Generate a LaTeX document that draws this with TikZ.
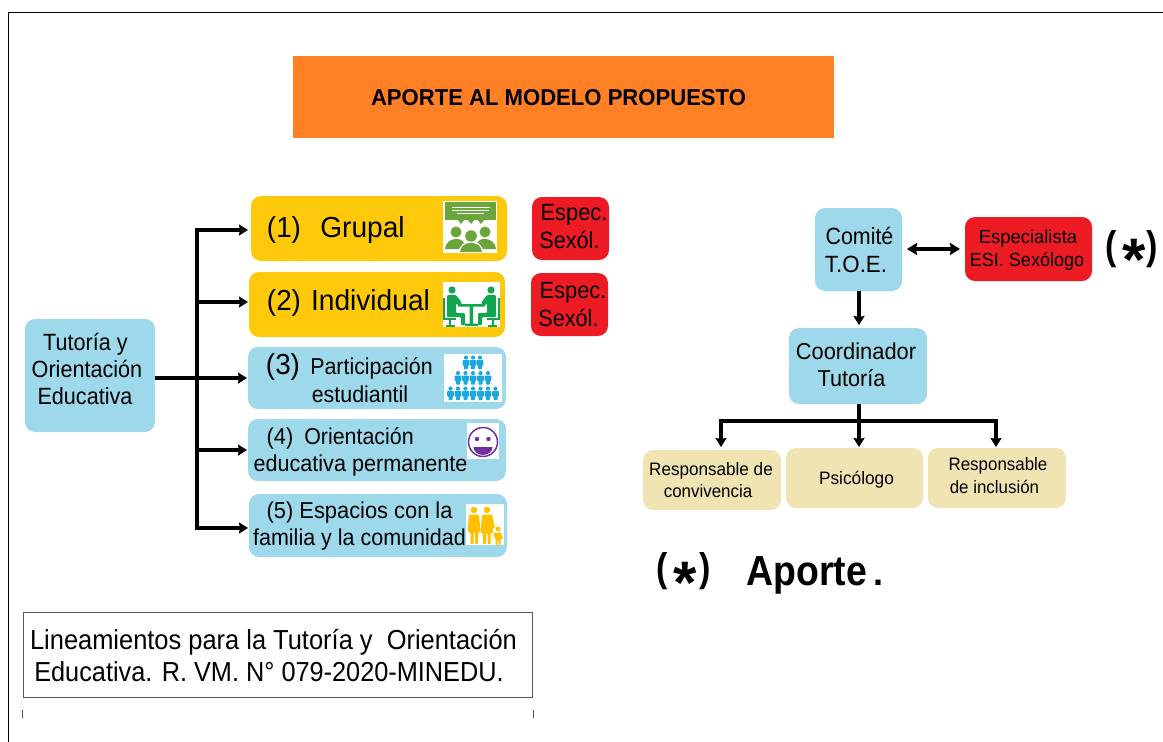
\documentclass[tikz,border=0pt]{standalone}
\usepackage{fontspec}
\setmainfont{Liberation Sans}
\usetikzlibrary{arrows.meta}
\definecolor{cyanbox}{HTML}{9DD9EB}
\definecolor{goldbox}{HTML}{FFC90B}
\definecolor{redbox}{HTML}{ED1C24}
\definecolor{sandbox}{HTML}{F0E4B2}
\definecolor{orangebox}{HTML}{FF8025}
\definecolor{icongreen}{HTML}{6AA63C}
\definecolor{icontable}{HTML}{12A650}
\definecolor{iconblue}{HTML}{1CA7DF}
\definecolor{iconviolet}{HTML}{7030A0}
\definecolor{iconyellow}{HTML}{FFC000}
\newcommand{\fs}[1]{\fontsize{#1}{#1}\selectfont}
\tikzset{
  boxshape/.style={draw=none,rounded corners=10pt,inner sep=0pt,outer sep=0pt},
  txt/.style={inner sep=0pt,outer sep=0pt,text=black,anchor=base},
  link/.style={line width=3.2pt,draw=black},
  arrowlink/.style={link,-{Stealth[length=9pt,width=11pt,inset=1pt]}},
  iconbg/.style={fill=white,draw=none}
}
\newcommand{\bx}[6]{\node[boxshape,fill=#6,minimum width={(#4-#2)*1pt},minimum height={(#5-#3)*1pt}] (#1) at ({(#2+#4)/2},{(#3+#5)/2}) {};}
% [bold etc]{size}{horizontal scale}{centre x, baseline y}{text}
\newcommand{\tx}[5][]{\node[txt,font=#1\fs{#2}] at (#4) {\scalebox{#3}[1]{#5}};}
\newcommand{\pers}[3]{\begin{scope}[shift={(#1,#2)}]
 \fill[#3] (0,-5.4) circle (2.1);
 \fill[#3,rounded corners=.8pt] (-3.4,-3)--(3.4,-3)--(3.4,2.2)--(2,2.2)--(2,6.2)--(-2,6.2)--(-2,2.2)--(-3.4,2.2)--cycle;
\end{scope}}
\begin{document}
\begin{tikzpicture}[x=1pt,y=-1pt]
\useasboundingbox (0,0) rectangle (1163,742);
\fill[white] (0,0) rectangle (1163,742);
\draw[black,line width=.8pt] (8.5,742) -- (8.5,12.5) -- (1163,12.5);
% title
\node[draw=none,fill=orangebox,inner sep=0pt,minimum width=541pt,minimum height=82pt] (title) at (563.5,97) {};
\tx[\bfseries]{23}{.96}{558.5,105}{APORTE AL MODELO PROPUESTO}
% left boxes
\bx{tut}{25}{319}{155}{432}{cyanbox}
\bx{g1}{251}{196}{507}{261}{goldbox}
\bx{g2}{249}{272}{505}{337}{goldbox}
\bx{p3}{248}{347}{506}{409}{cyanbox}
\bx{p4}{248}{419}{506}{481}{cyanbox}
\bx{p5}{249}{494}{507}{557}{cyanbox}
\bx{r1}{532}{197}{609}{260}{redbox}
\bx{r2}{531}{273}{608}{336}{redbox}
% right boxes
\bx{com}{815}{208}{902}{291}{cyanbox}
\bx{esp}{965}{217}{1092}{281}{redbox}
\bx{coo}{789}{328}{927}{404}{cyanbox}
\bx{b1}{643}{450}{781}{510}{sandbox}
\bx{b2}{786}{448}{923}{508}{sandbox}
\bx{b3}{928}{448}{1066}{508}{sandbox}
% connectors left
\coordinate (bus) at (197,378);
\draw[arrowlink,shorten >=1pt] (tut.east |- bus) -- (p3.west |- bus);
\draw[link] (bus |- 0,228.4) -- (bus |- 0,529.6);
\draw[arrowlink,shorten >=3pt] (bus |- 0,230) -- (g1.west |- 0,230);
\draw[arrowlink,shorten >=1pt] (bus |- 0,302) -- (g2.west |- 0,302);
\draw[arrowlink,shorten >=1pt] (bus |- 0,450) -- (p4.west |- 0,450);
\draw[arrowlink,shorten >=1pt] (bus |- 0,528) -- (p5.west |- 0,528);
% connectors right
\draw[link,{Stealth[length=10pt,width=12pt,inset=1pt]}-{Stealth[length=10pt,width=12pt,inset=1pt]},shorten <=5pt,shorten >=5pt] (com.east |- 0,249) -- (esp.west |- 0,249);
\draw[arrowlink,shorten >=3pt] (com.south -| 859,0) -- (coo.north -| 859,0);
\coordinate (tree) at (859,421);
\draw[link] (coo.south -| tree) -- (tree);
\draw[link] (719.4,421) -- (997.6,421);
\draw[arrowlink,shorten >=3pt] (721,421) -- (b1.north -| 721,0);
\draw[arrowlink,shorten >=1pt] (tree) -- (b2.north -| tree);
\draw[arrowlink,shorten >=1pt] (996,421) -- (b3.north -| 996,0);
% left texts
\tx{23.5}{.92}{85.5,350}{Tutoría y}
\tx{23.5}{.92}{87,377}{Orientación}
\tx{23.5}{.92}{85,404}{Educativa}
\tx{29}{.96}{284,237}{(1)}
\tx{29}{.97}{362.5,237}{Grupal}
\tx{29}{.96}{284,310}{(2)}
\tx{29}{.97}{370.5,310}{Individual}
\tx{29}{.96}{283,374}{(3)}
\tx{23}{.93}{371.5,374}{Participación}
\tx{23}{.93}{360,402}{estudiantil}
\tx{23}{.95}{280,444}{(4)}
\tx{23}{.93}{359,444}{Orientación}
\tx{23}{.94}{360.5,471}{educativa permanente}
\tx{23}{.95}{280,518}{(5)}
\tx{23}{.95}{376,518}{Espacios con la}
\tx{23}{.935}{359.5,545}{familia y la comunidad}
\tx{23.5}{.93}{574,220}{Espec.}
\tx{23.5}{.92}{569.5,248}{Sexól.}
\tx{23.5}{.93}{573,298}{Espec.}
\tx{23.5}{.92}{568.5,326}{Sexól.}
% right texts
\tx{23.5}{.91}{859.5,244}{Comité}
\tx{23.5}{.95}{856,272}{T.O.E.}
\tx{23}{.95}{856,359}{Coordinador}
\tx{23}{.94}{851.5,386}{Tutoría}
\tx{19}{.97}{1028,243}{Especialista}
\tx{19}{.95}{1027,266}{ESI. Sexólogo}
\tx{18}{.95}{711,475}{Responsable de}
\tx{18}{.94}{708,497}{convivencia}
\tx{18}{.96}{856.5,484}{Psicólogo}
\tx{18}{.94}{998,470}{Responsable}
\tx{18}{.94}{994.5,493}{de inclusión}
% asterisks
\tx[\bfseries]{40}{.85}{1111,259}{(}
\tx[\bfseries]{60}{1}{1134,280}{*}
\tx[\bfseries]{40}{.85}{1152,259}{)}
\tx[\bfseries]{40}{.85}{662,581}{(}
\tx[\bfseries]{60}{1}{685,603}{*}
\tx[\bfseries]{40}{.85}{705,581}{)}
\tx[\bfseries]{42}{.89}{807,585}{Aporte}
\tx[\bfseries]{36}{1}{878,585}{.}
% reference box
\node[draw=black!65,line width=.8pt,minimum width=509.5pt,minimum height=85pt,inner sep=0pt] (ref) at (278,654.5) {};
\tx{27.5}{.925}{273.5,649}{Lineamientos para la Tutoría y\ \ Orientación}
\tx{27.5}{.92}{269,681}{Educativa. R. VM. N° 079-2020-MINEDU.}
\draw[black!65,line width=.8pt] (ref.south west |- 0,710) -- (ref.south west |- 0,718);
\draw[black!65,line width=.8pt] (ref.south east |- 0,710) -- (ref.south east |- 0,718);
% icon 1
\fill[iconbg] (443,201) rectangle (497,253);
\fill[icongreen] (445,202) rectangle (496,220);
\fill[icongreen] (457,219)--(465,219)--(461,224)--cycle (467,219)--(475,219)--(471,224)--cycle (477,219)--(485,219)--(481,224)--cycle;
\draw[white,line width=.8pt] (452,207)--(490,207) (452,210)--(489,210) (457,213)--(484,213);
\fill[icongreen] (456,232) circle (5.5) (485,232) circle (5.5);
\fill[icongreen] (445,249) .. controls (446,241) and (452,239) .. (456,239) .. controls (460,239) and (462,240) .. (464,243) -- (459,249) --cycle;
\fill[icongreen] (496,249) .. controls (495,241) and (489,239) .. (485,239) .. controls (481,239) and (479,240) .. (477,243) -- (482,249) --cycle;
\fill[white] (471,236) circle (7);
\fill[icongreen] (471,236) circle (5.8);
\fill[white] (458.5,253) .. controls (459.5,244) and (465,241.5) .. (471,241.5) .. controls (477,241.5) and (482.5,244) .. (483.5,253) --cycle;
\fill[icongreen] (460,252) .. controls (461,245.5) and (465,243) .. (471,243) .. controls (477,243) and (481,245.5) .. (482,252) --cycle;
% icon 2
\fill[iconbg] (443,282) rectangle (500,327);
\begin{scope}[icontable]
\fill (452,290) circle (3.6) (491,290) circle (3.6);
\fill[rounded corners=1pt] (447,295)--(456,295)--(462,303)--(459,306)--(456,303)--(456,313)--(465,313)--(465,325)--(461,325)--(461,317)--(447,317)--cycle;
\fill[rounded corners=1pt] (496,295)--(487,295)--(481,303)--(484,306)--(487,303)--(487,313)--(478,313)--(478,325)--(482,325)--(482,317)--(496,317)--cycle;
\draw[line width=2pt] (444,298)--(444,319)--(456,319) (450,319)--(450,325) (446,325.5)--(455,325.5);
\draw[line width=2pt] (499,298)--(499,319)--(487,319) (493,319)--(493,325) (488,325.5)--(497,325.5);
\fill (458,304) rectangle (485,306.5) (469.5,306)  rectangle (473,324) (465,323.5) rectangle (478,326);
\end{scope}
% icon 3
\fill[iconbg] (444,354) rectangle (502,402);
\foreach \px in {466,473,480} {\pers{\px}{363}{iconblue}}
\foreach \px in {458,465.5,473,480.5,488} {\pers{\px}{378.5}{iconblue}}
\foreach \px in {450.5,458,465.5,473,480.5,488,495.5} {\pers{\px}{394}{iconblue}}
% icon 4
\fill[iconbg] (467,423) rectangle (499,459);
\draw[iconviolet,line width=1.5pt,fill=white] (483,442) circle (14.5);
\fill[iconviolet] (477,439) circle (2.2) (488.5,439) circle (2.2);
\fill[iconviolet] (473.5,447) -- (492.5,447) arc (0:180:9.5 and 8) -- cycle;
% icon 5
\fill[iconbg] (466,504) rectangle (504,545);
\begin{scope}[iconyellow]
\fill (474,510) circle (3.2) (487,510) circle (3.2) (498,529) circle (2.4);
\fill[rounded corners=1pt] (469,514.5)--(479,514.5)--(480.5,532)--(478,532)--(478,544)--(475,544)--(475,532)--(473.5,532)--(473.5,544)--(470.5,544)--(470.5,532)--(467.5,532)--cycle;
\fill[rounded corners=1pt] (482,514.5)--(492,514.5)--(495,528)--(493,529)--(491,522)--(493.5,533)--(490.5,533)--(490.5,544)--(487.5,544)--(487.5,533)--(486,533)--(486,544)--(483,544)--(483,533)--(480.5,533)--cycle;
\fill[rounded corners=.6pt] (495,532.5)--(501,532.5)--(503,539)--(500.5,539)--(500.5,545)--(498.5,545)--(498.5,540)--(497.5,540)--(497.5,545)--(495.5,545)--(495.5,539)--(493,534)--cycle;
\end{scope}
\end{tikzpicture}
\end{document}
